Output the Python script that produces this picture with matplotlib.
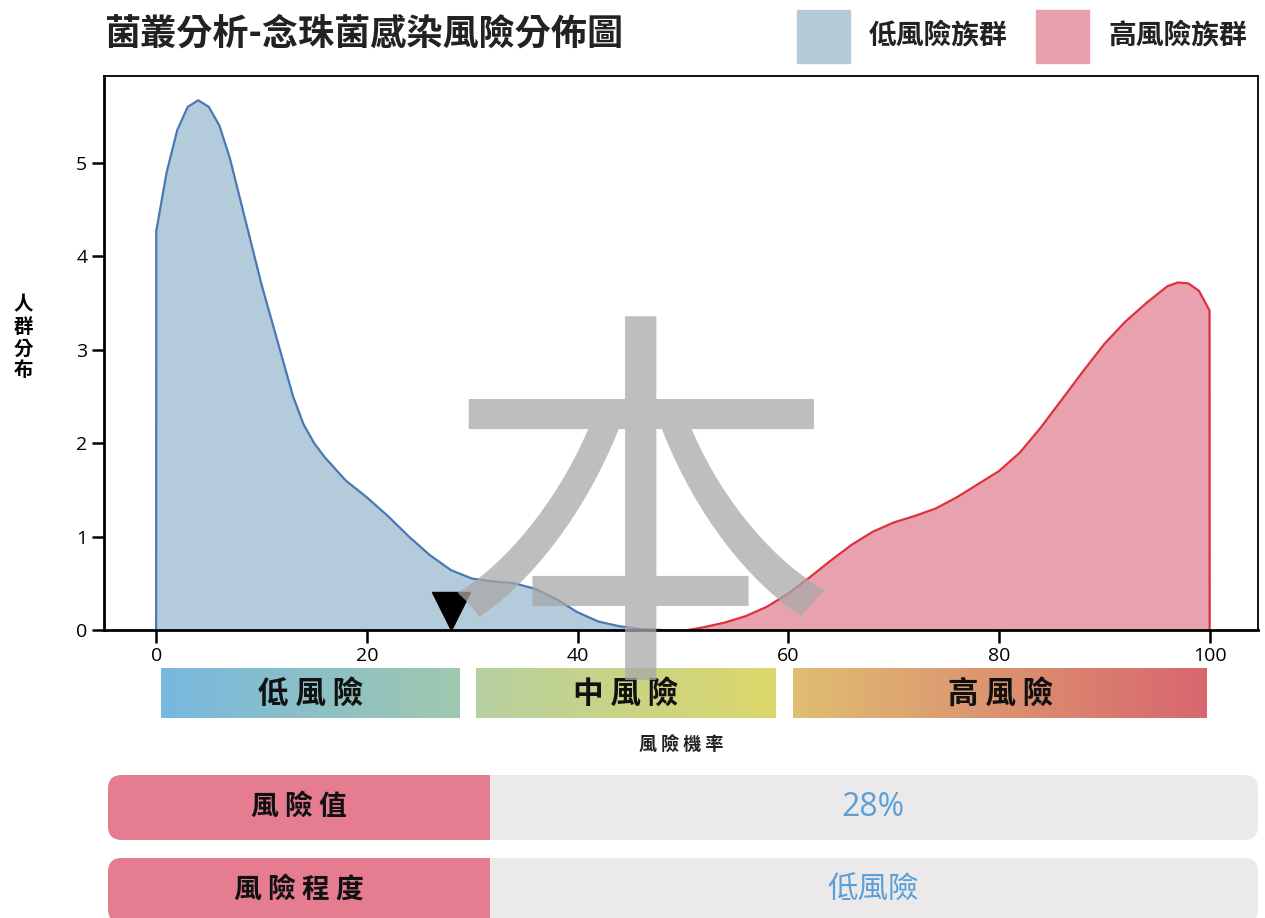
import numpy as np
import matplotlib
matplotlib.use("Agg")
import matplotlib.pyplot as plt
from matplotlib.patches import FancyBboxPatch, Rectangle
from matplotlib.colors import LinearSegmentedColormap

plt.rcParams['font.family'] = ['Noto Sans CJK TC', 'DejaVu Sans']

# data
low_x = [0, 0.01, 1, 2, 3, 4, 5, 6, 7, 8, 9, 10, 11, 12, 13, 14, 15, 16, 18, 20, 22, 24, 26,
         28, 30, 32, 34, 36, 38, 40, 42, 44, 46, 48]
low_y = [0, 4.27, 4.9, 5.35, 5.6, 5.67, 5.6, 5.4, 5.05, 4.6, 4.15, 3.7, 3.3, 2.9, 2.5, 2.2,
         2.0, 1.85, 1.6, 1.42, 1.22, 1.0, 0.8, 0.64, 0.55, 0.52, 0.5, 0.44, 0.33, 0.19, 0.09,
         0.04, 0.01, 0.0]
high_x = [50.5, 52, 54, 56, 58, 60, 62, 64, 66, 68, 70, 72, 74, 76, 78, 80, 82, 84, 86, 88,
          90, 92, 94, 96, 97, 98, 99, 100, 100.01]
high_y = [0.0, 0.03, 0.08, 0.15, 0.25, 0.39, 0.56, 0.74, 0.91, 1.05, 1.15, 1.22, 1.3, 1.42,
          1.56, 1.7, 1.9, 2.17, 2.47, 2.77, 3.06, 3.3, 3.5, 3.68, 3.72, 3.71, 3.63, 3.42, 0]
risk_value = 28
legend_labels = ['低風險族群', '高風險族群']
bands = [(0.5, 28.8, '低 風 險'), (30.4, 58.8, '中 風 險'), (60.5, 99.8, '高 風 險')]
band_colors = [('#78b8e0', '#9fc8ae'), ('#b7d0a0', '#dcd86a'), ('#dfbe72', '#d8666e')]
rows = [('風 險 值', '28%'), ('風 險 程 度', '低風險')]

W, H = 1265, 918
fig = plt.figure(figsize=(W / 100, H / 100), dpi=100)

ax = fig.add_axes([104 / W, 1 - 630 / H, (1258 - 104) / W, (630 - 76) / H])
ax.fill_between(low_x, low_y, color='#b4cbdb', lw=0)
ax.plot(low_x, low_y, color='#4a78b3', lw=1.6)
ax.fill_between(high_x, high_y, color='#e8a1ae', lw=0)
ax.plot(high_x, high_y, color='#e0303c', lw=1.6)
ax.plot([risk_value], [0.2], marker='v', color='black', markersize=27, clip_on=False)

ax.set_xlim(-4.95, 104.6)
ax.set_ylim(0, 5.93)
ax.set_xticks([0, 20, 40, 60, 80, 100])
ax.set_yticks([0, 1, 2, 3, 4, 5])
ax.tick_params(length=9, width=1.8, labelsize=14, pad=3)
for lab in ax.get_xticklabels() + ax.get_yticklabels():
    lab.set_family(['Open Sans', 'DejaVu Sans'])
for s in ['left', 'bottom']:
    ax.spines[s].set_linewidth(2)
for s in ['top', 'right']:
    ax.spines[s].set_linewidth(1.3)

fig.text(23 / W, 1 - 338 / H, '人\n群\n分\n布', ha='center', va='center', fontsize=14,
         fontweight='bold', linespacing=1.2)

# watermark
fig.text(640 / W, 1 - 536 / H, '本', ha='center', va='center', fontsize=285,
         color='#a8a8a8', alpha=0.75)

# gradient risk bands
bx = fig.add_axes([104 / W, 1 - 718 / H, (1258 - 104) / W, 50 / H])
for (x0, x1, name), (c0, c1) in zip(bands, band_colors):
    cmap = LinearSegmentedColormap.from_list(name, [c0, c1])
    bx.imshow(np.linspace(0, 1, 256).reshape(1, -1), cmap=cmap, aspect='auto',
              extent=[x0, x1, 0, 1])
    bx.text((x0 + x1) / 2, 0.48, name, ha='center', va='center', fontsize=22,
            fontweight='bold', color='#111111')
bx.set_xlim(ax.get_xlim())
bx.set_ylim(0, 1)
bx.axis('off')
fig.text(681 / W, 1 - 745 / H, '風 險 機 率', ha='center', va='center', fontsize=13,
         fontweight='bold', color='#222222')

# title and legend
fig.text(104 / W, 1 - 34 / H, '菌叢分析-念珠菌感染風險分佈圖', ha='left', va='center',
         fontsize=26, fontweight='bold', color='#222222')

ov = fig.add_axes([0, 0, 1, 1], zorder=-1)
ov.set_xlim(0, W)
ov.set_ylim(H, 0)
ov.axis('off')
for (lx, col), text in zip([(797, '#b3cad9'), (1036, '#e8a0ae')], legend_labels):
    ov.add_patch(Rectangle((lx, 10), 53, 53, color=col))
    ov.text(lx + 72, 36, text, ha='left', va='center', fontsize=20, fontweight='bold',
            color='#222222')

# bottom info rows
for i, (label, val) in enumerate(rows):
    y0 = 775 + i * 83
    ov.add_patch(FancyBboxPatch((108, y0), 1150, 65, boxstyle='round,pad=0,rounding_size=14',
                                color='#ebe9ea', lw=0))
    ov.add_patch(FancyBboxPatch((108, y0), 400, 65, boxstyle='round,pad=0,rounding_size=14',
                                color='#e57c8f', lw=0))
    ov.add_patch(Rectangle((490, y0), 40, 65, color='#ebe9ea', lw=0))
    ov.text(299, y0 + 32, label, ha='center', va='center', fontsize=20, fontweight='bold',
            color='#111111')
    ov.text(873, y0 + 32, val, ha='center', va='center', fontsize=22 if i else 23,
            color='#5a9fd8',
            family=['Open Sans', 'Noto Sans CJK TC'] if i == 0 else ['Noto Sans CJK TC'])

fig.savefig('out.png', dpi=100)
